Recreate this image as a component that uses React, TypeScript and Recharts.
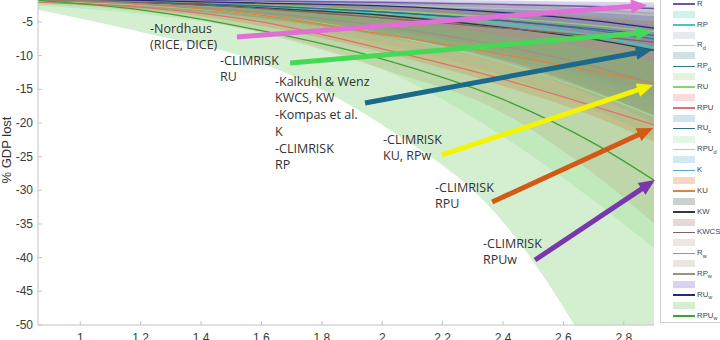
import React from 'react'
import { ComposedChart, Area, Line, XAxis, YAxis, ReferenceLine } from 'recharts'

// warming levels (deg C) where the damage curves are sampled
const TEMPS = [0.86, 1.2, 1.6, 2.0, 2.4, 2.7, 2.9]
const X_TICKS = [1, 1.2, 1.4, 1.6, 1.8, 2, 2.2, 2.4, 2.6, 2.8]
const Y_TICKS = [-50, -45, -40, -35, -30, -25, -20, -15, -10, -5, 0]

// % GDP lost: central line, lower and upper edge of each band
const R_MID = [-1.6, -1.7, -1.9, -2.1, -2.4, -2.7, -3.0]
const R_LO = [-1.8, -2.0, -2.4, -2.9, -3.5, -4.1, -4.6]
const R_HI = [-1.5, -1.5, -1.6, -1.7, -1.8, -2.0, -2.1]

const RP_MID = [-1.7, -2.0, -2.7, -3.7, -5.2, -7.0, -8.8]
const RP_LO = [-2.0, -2.8, -4.4, -6.8, -10.2, -14.5, -18.0]
const RP_HI = [-1.5, -1.7, -2.0, -2.5, -3.3, -4.2, -5.0]

const RD_MID = [-1.6, -1.8, -2.1, -2.5, -3.0, -3.5, -4.0]
const RD_LO = [-1.8, -2.1, -2.6, -3.2, -4.0, -4.8, -5.5]
const RD_HI = [-1.5, -1.6, -1.7, -1.9, -2.1, -2.4, -2.6]

const RPD_MID = [-1.7, -2.0, -2.6, -3.5, -4.8, -6.2, -7.5]
const RPD_LO = [-2.0, -2.7, -4.0, -6.0, -9.0, -12.8, -16.0]
const RPD_HI = [-1.5, -1.6, -1.9, -2.3, -2.9, -3.5, -4.0]

const RU_MID = [-1.7, -2.0, -2.5, -3.3, -4.4, -5.5, -6.4]
const RU_LO = [-2.0, -2.5, -3.4, -4.8, -6.6, -8.5, -10.0]
const RU_HI = [-1.5, -1.6, -1.8, -2.1, -2.6, -3.1, -3.5]

const RPU_MID = [-2.0, -2.8, -5.0, -9.0, -13.5, -17.5, -20.3]
const RPU_LO = [-2.4, -3.4, -6.6, -12.0, -18.5, -27.5, -34.9]
const RPU_HI = [-1.6, -1.9, -2.7, -4.2, -6.8, -9.5, -11.5]

const RUC_MID = [-1.7, -2.0, -2.6, -3.5, -4.8, -6.0, -7.0]
const RUC_LO = [-2.0, -2.7, -4.1, -6.2, -9.5, -13.5, -17.0]
const RUC_HI = [-1.5, -1.6, -1.9, -2.3, -2.9, -3.5, -4.0]

const RPUD_MID = [-1.9, -2.5, -4.0, -6.8, -11.0, -15.5, -19.0]
const RPUD_LO = [-2.6, -3.8, -6.5, -12.0, -22.0, -31.5, -38.6]
const RPUD_HI = [-1.6, -1.8, -2.4, -3.4, -5.0, -6.8, -8.0]

const K_MID = [-1.7, -2.1, -2.9, -4.0, -5.7, -7.4, -9.0]
const K_LO = [-2.1, -2.9, -4.6, -7.2, -11.0, -16.0, -20.0]
const K_HI = [-1.5, -1.7, -2.1, -2.6, -3.5, -4.4, -5.2]

const KU_MID = [-1.8, -2.4, -4.0, -6.8, -9.8, -12.3, -14.0]
const KU_LO = [-2.2, -3.1, -5.6, -9.5, -14.5, -19.0, -22.8]
const KU_HI = [-1.6, -1.8, -2.6, -3.8, -5.5, -7.0, -8.0]

const KW_MID = [-1.7, -2.1, -2.9, -4.0, -5.8, -7.6, -9.2]
const KW_LO = [-2.1, -2.8, -4.4, -7.0, -10.6, -15.2, -19.0]
const KW_HI = [-1.5, -1.7, -2.1, -2.7, -3.6, -4.6, -5.4]

const KWCS_MID = [-1.7, -2.1, -3.0, -4.4, -5.9, -7.1, -8.0]
const KWCS_LO = [-2.0, -2.7, -4.1, -6.2, -9.4, -13.0, -16.0]
const KWCS_HI = [-1.5, -1.7, -2.0, -2.5, -3.3, -4.1, -4.7]

const RW_MID = [-1.6, -1.9, -2.3, -2.9, -3.7, -4.5, -5.1]
const RW_LO = [-1.8, -2.2, -2.9, -3.9, -5.2, -6.5, -7.5]
const RW_HI = [-1.5, -1.6, -1.8, -2.1, -2.5, -2.9, -3.2]

const RPW_MID = [-1.8, -2.3, -3.6, -5.6, -8.6, -11.6, -14.2]
const RPW_LO = [-2.2, -3.0, -5.0, -8.2, -13.0, -18.0, -22.0]
const RPW_HI = [-1.5, -1.8, -2.4, -3.4, -4.9, -6.5, -7.8]

const RUW_MID = [-1.5, -1.8, -2.2, -2.6, -3.6, -4.8, -5.9]
const RUW_LO = [-1.7, -2.1, -2.8, -3.6, -5.2, -7.0, -8.6]
const RUW_HI = [-1.4, -1.5, -1.7, -1.9, -2.4, -3.0, -3.6]

const RPUW_MID = [-1.8, -3.2, -6.3, -10.5, -16.5, -23.0, -28.5]
const RPUW_LO = [-3.2, -6.5, -11.1, -20.3, -34.7, -55.0, -73.0]
const RPUW_HI = [-1.5, -2.0, -3.0, -4.5, -7.0, -9.0, -11.0]

interface Model {
  key: string
  name: string
  sub?: string
  mid: number[]
  lo: number[]
  hi: number[]
}

const MODELS: Model[] = [
  { key: 'R', name: 'R', mid: R_MID, lo: R_LO, hi: R_HI },
  { key: 'RP', name: 'RP', mid: RP_MID, lo: RP_LO, hi: RP_HI },
  { key: 'RD', name: 'R', sub: 'd', mid: RD_MID, lo: RD_LO, hi: RD_HI },
  { key: 'RPD', name: 'RP', sub: 'd', mid: RPD_MID, lo: RPD_LO, hi: RPD_HI },
  { key: 'RU', name: 'RU', mid: RU_MID, lo: RU_LO, hi: RU_HI },
  { key: 'RPU', name: 'RPU', mid: RPU_MID, lo: RPU_LO, hi: RPU_HI },
  { key: 'RUC', name: 'RU', sub: 'c', mid: RUC_MID, lo: RUC_LO, hi: RUC_HI },
  { key: 'RPUD', name: 'RPU', sub: 'd', mid: RPUD_MID, lo: RPUD_LO, hi: RPUD_HI },
  { key: 'K', name: 'K', mid: K_MID, lo: K_LO, hi: K_HI },
  { key: 'KU', name: 'KU', mid: KU_MID, lo: KU_LO, hi: KU_HI },
  { key: 'KW', name: 'KW', mid: KW_MID, lo: KW_LO, hi: KW_HI },
  { key: 'KWCS', name: 'KWCS', mid: KWCS_MID, lo: KWCS_LO, hi: KWCS_HI },
  { key: 'RW', name: 'R', sub: 'w', mid: RW_MID, lo: RW_LO, hi: RW_HI },
  { key: 'RPW', name: 'RP', sub: 'w', mid: RPW_MID, lo: RPW_LO, hi: RPW_HI },
  { key: 'RUW', name: 'RU', sub: 'w', mid: RUW_MID, lo: RUW_LO, hi: RUW_HI },
  { key: 'RPUW', name: 'RPU', sub: 'w', mid: RPUW_MID, lo: RPUW_LO, hi: RPUW_HI },
]

const STYLE: Record<string, { line: string; fill: string }> = {
  R: { line: '#6a5aa0', fill: '#8069c6' },
  RP: { line: '#45c8b5', fill: '#58d7c0' },
  RD: { line: '#b9bfc5', fill: '#acb9c6' },
  RPD: { line: '#2e7d86', fill: '#5f9ba8' },
  RU: { line: '#8ed06c', fill: '#a5da84' },
  RPU: { line: '#e07070', fill: '#ee8484' },
  RUC: { line: '#2b6d8f', fill: '#62a2ca' },
  RPUD: { line: '#9ed89e', fill: '#a5e1a5' },
  K: { line: '#5aa8c8', fill: '#69b2d4' },
  KU: { line: '#e0823f', fill: '#eb763a' },
  KW: { line: '#2f3d33', fill: '#4b6666' },
  KWCS: { line: '#84605e', fill: '#ac7d70' },
  RW: { line: '#a49474', fill: '#caaf91' },
  RPW: { line: '#9d9282', fill: '#b6ac94' },
  RUW: { line: '#252a78', fill: '#8069cd' },
  RPUW: { line: '#3fa232', fill: '#6cca5f' },
}

const BAND_OPACITY = 0.3

// annotation arrows, in data units (tail -> tip)
const ARROWS = [
  { from: [1.519, -7.23], to: [2.877, -2.5], color: '#e06fd6' },
  { from: [1.695, -11.09], to: [2.893, -6.49], color: '#45d956' },
  { from: [1.943, -17.03], to: [2.893, -9.16], color: '#1b6a8c' },
  { from: [2.198, -24.75], to: [2.897, -14.36], color: '#f4f400' },
  { from: [2.364, -31.74], to: [2.897, -20.75], color: '#d35a16' },
  { from: [2.506, -40.35], to: [2.903, -28.47], color: '#7a36ad' },
]

const NOTES = [
  { left: 150, top: 20.5, lines: ['-Nordhaus', '(RICE, DICE)'] },
  { left: 220, top: 52.5, lines: ['-CLIMRISK', 'RU'] },
  {
    left: 275,
    top: 73.5,
    lines: ['-Kalkuhl & Wenz', 'KWCS, KW', '-Kompas et al.', 'K', '-CLIMRISK', 'RP'],
  },
  { left: 383, top: 131.5, lines: ['-CLIMRISK', 'KU, RPw'] },
  { left: 435, top: 179.5, lines: ['-CLIMRISK', 'RPU'] },
  { left: 483, top: 235.5, lines: ['-CLIMRISK', 'RPUw'] },
]

const data = TEMPS.map((t, i) => {
  const row: Record<string, number | number[]> = { t }
  MODELS.forEach((m) => {
    row[m.key + '_band'] = [m.lo[i], m.hi[i]]
    row[m.key + '_mid'] = m.mid[i]
  })
  return row
})

const AXIS = '#c4c4c4'
const TICK_TEXT = '#3a3a3a'

function YTick(props: any) {
  const { x, y, payload } = props
  return (
    <g>
      <line x1={x + 5} x2={x + 9} y1={y} y2={y} stroke={AXIS} />
      <text x={x} y={y} dy={4} textAnchor="end" fontSize={12} fill={TICK_TEXT}>
        {payload.value}
      </text>
    </g>
  )
}

function XTick(props: any) {
  const { x, y, payload } = props
  return (
    <g>
      <line x1={x} x2={x} y1={y - 8} y2={y - 12} stroke={AXIS} />
      <text x={x} y={y} dy="0.71em" textAnchor="middle" fontSize={12} fill={TICK_TEXT}>
        {payload.value}
      </text>
    </g>
  )
}

function arrowShape(color: string) {
  return (props: any) => {
    const { x1, y1, x2, y2 } = props
    const dx = x2 - x1
    const dy = y2 - y1
    const len = Math.hypot(dx, dy) || 1
    const ux = dx / len
    const uy = dy / len
    const head = 16
    const half = 7
    const bx = x2 - ux * head
    const by = y2 - uy * head
    const pts = `${x2},${y2} ${bx - uy * half},${by + ux * half} ${bx + uy * half},${by - ux * half}`
    return (
      <g>
        <line x1={x1} y1={y1} x2={bx + ux} y2={by + uy} stroke={color} strokeWidth={5} />
        <polygon points={pts} fill={color} />
      </g>
    )
  }
}

function ModelLegend() {
  return (
    <div
      style={{
        position: 'absolute',
        left: 660,
        top: -13.6,
        width: 80,
        height: 336.8,
        border: '1px solid #d0d0d0',
        boxSizing: 'border-box',
        background: '#fff',
        paddingTop: 1,
      }}
    >
      {MODELS.map((m) => (
        <React.Fragment key={m.key}>
          <div style={{ height: 10.4, position: 'relative' }}>
            <div
              style={{
                position: 'absolute',
                left: 12,
                top: 1.7,
                width: 22,
                height: 7,
                background: STYLE[m.key].fill,
                opacity: BAND_OPACITY,
              }}
            />
          </div>
          <div style={{ height: 10.4, position: 'relative' }}>
            <div
              style={{
                position: 'absolute',
                left: 12,
                top: 4.5,
                width: 22,
                height: 1.5,
                background: STYLE[m.key].line,
              }}
            />
            <span
              style={{
                position: 'absolute',
                left: 36,
                top: 0,
                fontSize: 7.8,
                lineHeight: '10.4px',
                color: '#444',
                whiteSpace: 'nowrap',
              }}
            >
              {m.name}
              {m.sub && (
                <span style={{ fontSize: 5.5, position: 'relative', top: 2.5 }}>{m.sub}</span>
              )}
            </span>
          </div>
        </React.Fragment>
      ))}
    </div>
  )
}

export default function App() {
  return (
    <div
      style={{
        position: 'fixed',
        left: 0,
        top: 0,
        width: 720,
        height: 340,
        overflow: 'hidden',
        background: '#fff',
        fontFamily: '"Liberation Sans", Arial, sans-serif',
      }}
    >
      <div style={{ position: 'absolute', left: 0, top: -20 }}>
        <ComposedChart
          width={720}
          height={380}
          data={data}
          margin={{ top: 8.3, right: 66, bottom: 15, left: 0 }}
        >
          <XAxis
            dataKey="t"
            type="number"
            domain={[0.86, 2.9]}
            ticks={X_TICKS}
            interval={0}
            allowDataOverflow
            height={20}
            tickSize={0}
            tickMargin={8}
            tickLine={false}
            axisLine={{ stroke: AXIS }}
            tick={(p: any) => <XTick {...p} />}
          />
          <YAxis
            type="number"
            domain={[-50, 0]}
            ticks={Y_TICKS}
            interval={0}
            allowDataOverflow
            width={38}
            tickSize={0}
            tickMargin={5}
            tickLine={false}
            axisLine={{ stroke: AXIS }}
            tick={(p: any) => <YTick {...p} />}
          />
          {MODELS.map((m) => (
            <React.Fragment key={m.key}>
              <Area
                type="monotone"
                dataKey={m.key + '_band'}
                stroke="none"
                fill={STYLE[m.key].fill}
                fillOpacity={BAND_OPACITY}
                dot={false}
                activeDot={false}
                isAnimationActive={false}
              />
              <Line
                type="monotone"
                dataKey={m.key + '_mid'}
                stroke={STYLE[m.key].line}
                strokeWidth={1.3}
                dot={false}
                activeDot={false}
                isAnimationActive={false}
              />
            </React.Fragment>
          ))}
          {ARROWS.map((a, i) => (
            <ReferenceLine
              key={i}
              segment={[
                { x: a.from[0], y: a.from[1] },
                { x: a.to[0], y: a.to[1] },
              ]}
              ifOverflow="visible"
              stroke={a.color}
              shape={arrowShape(a.color)}
            />
          ))}
        </ComposedChart>
      </div>

      {NOTES.map((n, i) => (
        <div
          key={i}
          style={{
            position: 'absolute',
            left: n.left,
            top: n.top,
            fontFamily: '"Open Sans", sans-serif',
            fontSize: 12.5,
            lineHeight: '16.8px',
            color: '#333',
            whiteSpace: 'nowrap',
          }}
        >
          {n.lines.map((l, j) => (
            <div key={j}>{l}</div>
          ))}
        </div>
      ))}

      <div
        style={{
          position: 'absolute',
          left: 6,
          top: 150,
          transform: 'translate(-50%, -50%) rotate(-90deg)',
          whiteSpace: 'nowrap',
          fontSize: 13,
          color: '#333',
        }}
      >
        % GDP lost
      </div>

      <ModelLegend />
    </div>
  )
}
